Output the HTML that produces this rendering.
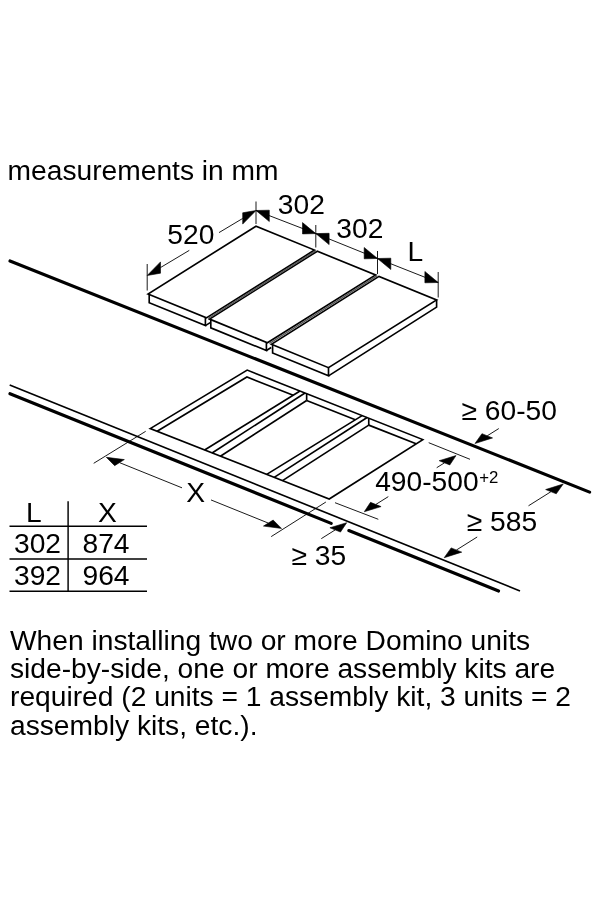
<!DOCTYPE html>
<html lang="en">
<head>
<meta charset="utf-8">
<title>Domino hob installation measurements</title>
<style>
html,body{margin:0;padding:0;background:#fff;}
body{width:600px;height:900px;overflow:hidden;}
svg{display:block;filter:grayscale(1);}
svg text{font-family:"Liberation Sans",Arial,Helvetica,sans-serif;fill:#000;}
svg line, svg path{stroke:#000;}
svg path.ah{fill:#000;stroke:#000;stroke-width:0.6;stroke-linejoin:miter;}
</style>
</head>
<body>
<svg width="600" height="900" viewBox="0 0 600 900">
<rect x="0" y="0" width="600" height="900" fill="#fff" stroke="none"/>
<line x1="10.00" y1="261.00" x2="589.60" y2="492.10" stroke-width="3.15" stroke-linecap="round"/>
<line x1="9.70" y1="385.10" x2="520.00" y2="590.90" stroke-width="1.65" stroke-linecap="butt"/>
<line x1="10.00" y1="393.70" x2="331.20" y2="523.40" stroke-width="3.15" stroke-linecap="round"/>
<line x1="348.80" y1="530.51" x2="498.60" y2="591.00" stroke-width="3.15" stroke-linecap="round"/>
<path d="M148.00 294.00 L206.40 317.83 L314.50 250.07 L256.00 226.20 Z" stroke-width="1.65" fill="#fff" stroke-linejoin="miter"/>
<path d="M209.60 319.13 L267.40 342.72 L375.60 275.00 L317.30 251.21 Z" stroke-width="1.65" fill="#fff" stroke-linejoin="miter"/>
<path d="M271.40 344.35 L328.50 367.64 L436.60 299.88 L379.00 276.38 Z" stroke-width="1.65" fill="#fff" stroke-linejoin="miter"/>
<line x1="208.00" y1="318.48" x2="315.90" y2="250.64" stroke-width="1.4" style="stroke:#555"/>
<line x1="269.40" y1="343.53" x2="377.30" y2="275.69" stroke-width="1.4" style="stroke:#555"/>
<path d="M149.20 294.50 L149.20 302.70 L205.40 325.63 L205.40 317.43" stroke-width="1.65" fill="none" stroke-linejoin="miter"/>
<path d="M205.40 325.63 L210.20 322.61" stroke-width="1.65" fill="none" stroke-linejoin="miter"/>
<path d="M210.80 319.63 L210.80 327.83 L266.40 350.52 L266.40 342.32" stroke-width="1.65" fill="none" stroke-linejoin="miter"/>
<path d="M266.40 350.52 L271.20 347.50" stroke-width="1.65" fill="none" stroke-linejoin="miter"/>
<path d="M272.60 344.85 L272.60 353.05 L328.50 375.84 L328.50 367.64" stroke-width="1.65" fill="none" stroke-linejoin="miter"/>
<path d="M328.50 375.84 L436.60 307.08 L436.60 299.88" stroke-width="1.65" fill="none" stroke-linejoin="miter"/>
<path d="M150.20 428.60 L247.20 370.10 L422.80 439.60 L329.20 499.00 Z" stroke-width="1.65" fill="none" stroke-linejoin="miter"/>
<line x1="204.60" y1="450.00" x2="300.00" y2="391.00" stroke-width="1.65" stroke-linecap="butt"/>
<line x1="212.10" y1="452.95" x2="305.00" y2="392.98" stroke-width="1.65" stroke-linecap="butt"/>
<line x1="220.40" y1="456.21" x2="306.65" y2="400.53" stroke-width="1.65" stroke-linecap="butt"/>
<line x1="306.65" y1="393.63" x2="306.65" y2="400.53" stroke-width="1.65" stroke-linecap="butt"/>
<path d="M157.13 431.32 L246.90 377.00 L293.20 395.20" stroke-width="1.65" fill="none" stroke-linejoin="miter"/>
<line x1="266.70" y1="474.42" x2="362.10" y2="415.58" stroke-width="1.65" stroke-linecap="butt"/>
<line x1="274.20" y1="477.37" x2="367.10" y2="417.55" stroke-width="1.65" stroke-linecap="butt"/>
<line x1="282.50" y1="480.63" x2="368.75" y2="425.11" stroke-width="1.65" stroke-linecap="butt"/>
<line x1="368.75" y1="418.21" x2="368.75" y2="425.11" stroke-width="1.65" stroke-linecap="butt"/>
<path d="M306.65 400.53 L355.29 419.78" stroke-width="1.65" fill="none" stroke-linejoin="miter"/>
<path d="M368.75 425.11 L416.10 443.85" stroke-width="1.65" fill="none" stroke-linejoin="miter"/>
<line x1="147.20" y1="264.00" x2="147.20" y2="290.50" stroke-width="0.9" stroke-linecap="butt"/>
<line x1="256.00" y1="201.50" x2="256.00" y2="224.00" stroke-width="0.9" stroke-linecap="butt"/>
<line x1="315.80" y1="225.00" x2="315.80" y2="247.50" stroke-width="0.9" stroke-linecap="butt"/>
<line x1="377.50" y1="251.00" x2="377.50" y2="274.00" stroke-width="0.9" stroke-linecap="butt"/>
<line x1="438.20" y1="272.00" x2="438.20" y2="297.50" stroke-width="0.9" stroke-linecap="butt"/>
<path class="ah" d="M147.20 275.50 L160.50 261.90 L160.50 273.20 Z"/>
<path class="ah" d="M256.00 210.50 L242.70 212.80 L242.70 224.10 Z"/>
<line x1="160.50" y1="267.55" x2="189.30" y2="250.35" stroke-width="0.9" stroke-linecap="butt"/>
<line x1="242.70" y1="218.45" x2="219.00" y2="232.60" stroke-width="0.9" stroke-linecap="butt"/>
<path class="ah" d="M256.00 210.50 L269.30 210.20 L269.30 221.50 Z"/>
<path class="ah" d="M315.80 233.60 L302.50 222.60 L302.50 233.90 Z"/>
<line x1="256.00" y1="210.50" x2="315.80" y2="233.60" stroke-width="0.9" stroke-linecap="butt"/>
<path class="ah" d="M315.80 233.60 L329.10 233.30 L329.10 244.60 Z"/>
<path class="ah" d="M377.50 258.50 L364.20 247.50 L364.20 258.80 Z"/>
<line x1="315.80" y1="233.60" x2="377.50" y2="258.50" stroke-width="0.9" stroke-linecap="butt"/>
<path class="ah" d="M377.50 258.50 L390.80 258.20 L390.80 269.50 Z"/>
<path class="ah" d="M438.20 282.50 L424.90 271.50 L424.90 282.80 Z"/>
<line x1="377.50" y1="258.50" x2="438.20" y2="282.50" stroke-width="0.9" stroke-linecap="butt"/>
<text x="7.60" y="179.80" font-size="28.2" text-anchor="start">measurements in mm</text>
<text x="167.30" y="244.30" font-size="28.2" text-anchor="start">520</text>
<text x="277.80" y="213.50" font-size="28.2" text-anchor="start">302</text>
<text x="336.30" y="237.50" font-size="28.2" text-anchor="start">302</text>
<text x="407.50" y="260.60" font-size="28.2" text-anchor="start">L</text>
<line x1="93.70" y1="463.30" x2="145.70" y2="431.30" stroke-width="0.9" stroke-linecap="butt"/>
<line x1="271.20" y1="536.60" x2="325.90" y2="502.00" stroke-width="0.9" stroke-linecap="butt"/>
<path class="ah" d="M106.30 457.30 L114.67 465.64 L124.33 459.58 Z"/>
<path class="ah" d="M281.50 528.40 L263.47 526.12 L273.13 520.06 Z"/>
<line x1="119.50" y1="462.61" x2="182.00" y2="487.84" stroke-width="0.9" stroke-linecap="butt"/>
<line x1="268.30" y1="523.09" x2="211.00" y2="499.95" stroke-width="0.9" stroke-linecap="butt"/>
<text x="186.30" y="501.80" font-size="28.2" text-anchor="start">X</text>
<path class="ah" d="M346.70 522.70 L329.91 527.79 L340.49 532.05 Z"/>
<line x1="335.20" y1="529.92" x2="321.30" y2="538.65" stroke-width="0.9" stroke-linecap="butt"/>
<text x="291.50" y="564.50" font-size="28.2" text-anchor="start">≥ 35</text>
<line x1="335.00" y1="502.70" x2="378.30" y2="519.30" stroke-width="0.9" stroke-linecap="butt"/>
<line x1="428.70" y1="442.70" x2="470.00" y2="459.30" stroke-width="0.9" stroke-linecap="butt"/>
<path class="ah" d="M364.30 511.70 L370.51 502.35 L381.09 506.61 Z"/>
<line x1="375.80" y1="504.48" x2="388.30" y2="496.63" stroke-width="0.9" stroke-linecap="butt"/>
<path class="ah" d="M456.00 455.60 L439.21 460.69 L449.79 464.95 Z"/>
<line x1="444.50" y1="462.82" x2="436.70" y2="467.72" stroke-width="0.9" stroke-linecap="butt"/>
<text x="375.20" y="491.00" font-size="28.2" text-anchor="start">490-500</text>
<text x="479.20" y="482.60" font-size="16.8" text-anchor="start">+2</text>
<path class="ah" d="M475.00 443.50 L481.96 433.68 L492.54 437.94 Z"/>
<line x1="487.25" y1="435.81" x2="498.80" y2="428.55" stroke-width="0.9" stroke-linecap="butt"/>
<text x="461.50" y="420.40" font-size="28.2" text-anchor="start">≥ 60-50</text>
<path class="ah" d="M563.20 484.00 L545.66 489.56 L556.24 493.82 Z"/>
<line x1="550.95" y1="491.69" x2="528.50" y2="505.79" stroke-width="0.9" stroke-linecap="butt"/>
<path class="ah" d="M444.20 557.70 L451.16 547.88 L461.74 552.14 Z"/>
<line x1="456.45" y1="550.01" x2="477.20" y2="536.98" stroke-width="0.9" stroke-linecap="butt"/>
<text x="466.80" y="531.20" font-size="28.2" text-anchor="start">≥ 585</text>
<line x1="9.50" y1="526.30" x2="147.00" y2="526.30" stroke-width="1.45" stroke-linecap="butt"/>
<line x1="9.50" y1="558.90" x2="147.00" y2="558.90" stroke-width="1.45" stroke-linecap="butt"/>
<line x1="9.50" y1="591.30" x2="147.00" y2="591.30" stroke-width="1.45" stroke-linecap="butt"/>
<line x1="68.10" y1="501.30" x2="68.10" y2="591.30" stroke-width="1.45" stroke-linecap="butt"/>
<text x="26.00" y="521.70" font-size="28.2" text-anchor="start">L</text>
<text x="98.00" y="521.70" font-size="28.2" text-anchor="start">X</text>
<text x="14.00" y="553.30" font-size="28.2" text-anchor="start">302</text>
<text x="82.50" y="553.30" font-size="28.2" text-anchor="start">874</text>
<text x="14.00" y="585.00" font-size="28.2" text-anchor="start">392</text>
<text x="82.50" y="585.00" font-size="28.2" text-anchor="start">964</text>
<text x="10.00" y="649.70" font-size="28.2" text-anchor="start">When installing two or more Domino units</text>
<text x="10.00" y="678.00" font-size="28.2" text-anchor="start">side-by-side, one or more assembly kits are</text>
<text x="10.00" y="706.30" font-size="28.2" text-anchor="start">required (2 units = 1 assembly kit, 3 units = 2</text>
<text x="10.00" y="734.60" font-size="28.2" text-anchor="start">assembly kits, etc.).</text>
</svg>
</body>
</html>
